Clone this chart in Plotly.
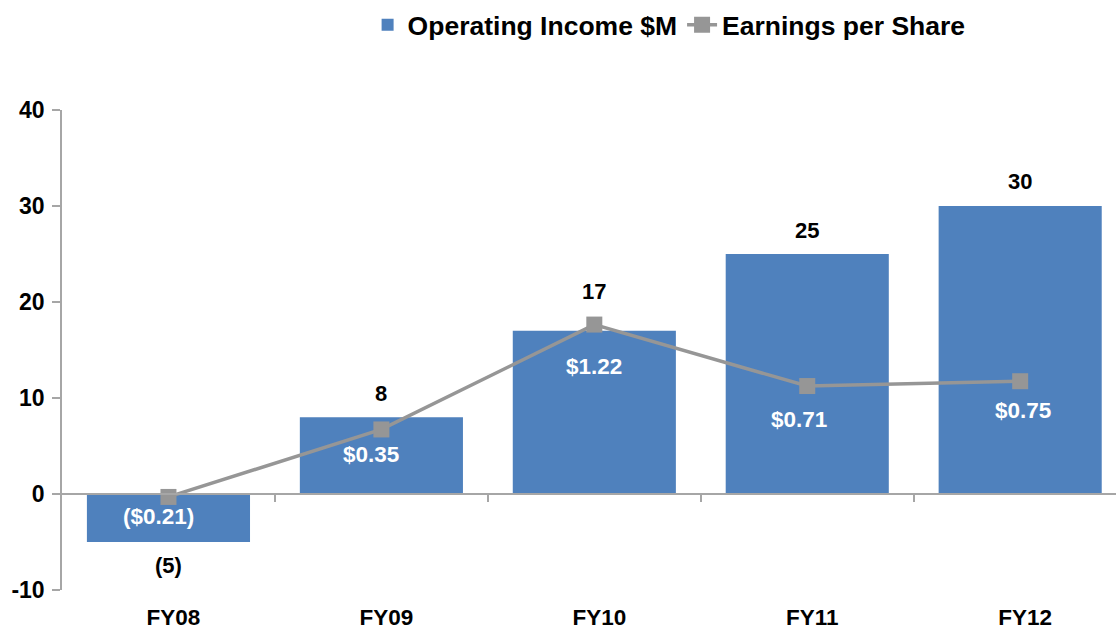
import plotly.graph_objects as go

categories = ["FY08", "FY09", "FY10", "FY11", "FY12"]
operating_income = [-5, 8, 17, 25, 30]
income_labels = ["(5)", "8", "17", "25", "30"]
eps = [-0.21, 0.35, 1.22, 0.71, 0.75]
eps_labels = ["($0.21)", "$0.35", "$1.22", "$0.71", "$0.75"]
y_ticks = [-10, 0, 10, 20, 30, 40]
y_tick_labels = ["-10", "0", "10", "20", "30", "40"]

# label offsets (styling, px)
income_yshift = [-23, 24, 39, 24, 25]
eps_yshift = [-20, -25, -42, -33, -29]
eps_xshift = [-10, -10, 0, -8, 3]

FONT = "Arial, Liberation Sans, sans-serif"
BLUE = "#4F81BD"
GRAY = "#969696"
AXIS = "#A6A6A6"

xpos = list(range(len(categories)))
xrange = [-0.5, 4.45]

fig = go.Figure()
fig.add_trace(go.Bar(
    x=xpos, y=operating_income, name="Operating Income $M",
    marker=dict(color=BLUE, line=dict(width=0)), width=0.766,
    xaxis="x", yaxis="y",
))
fig.add_trace(go.Scatter(
    x=xpos, y=eps, name="Earnings per Share", mode="lines+markers",
    line=dict(color=GRAY, width=3.5),
    marker=dict(symbol="square", size=16, color=GRAY),
    xaxis="x", yaxis="y2",
))

annotations = []
for i, (v, t) in enumerate(zip(operating_income, income_labels)):
    annotations.append(dict(
        x=xpos[i], y=v, xref="x", yref="y", text=t, showarrow=False,
        yshift=income_yshift[i],
        font=dict(family=FONT, size=22, color="black", weight="bold"),
    ))
for i, (v, t) in enumerate(zip(eps, eps_labels)):
    annotations.append(dict(
        x=xpos[i], y=v, xref="x", yref="y2", text=t, showarrow=False,
        yshift=eps_yshift[i], xshift=eps_xshift[i],
        font=dict(family=FONT, size=22.5, color="white", weight="bold"),
    ))

fig.update_layout(
    width=1116, height=632,
    margin=dict(l=62, r=0, t=110, b=42),
    paper_bgcolor="white", plot_bgcolor="white",
    font=dict(family=FONT, color="black"),
    bargap=0.234,
    showlegend=True,
    legend=dict(
        orientation="h", x=0.576, xanchor="center", y=1.227, yanchor="top",
        font=dict(family=FONT, size=26.5, color="black", weight="bold"),
        itemwidth=30, tracegroupgap=0, bgcolor="rgba(0,0,0,0)",
    ),
    xaxis=dict(
        range=xrange, tickvals=xpos, ticktext=categories,
        showline=False, ticks="", showgrid=False, zeroline=False,
        tickfont=dict(family=FONT, size=22.5, color="black", weight="bold"),
        ticklabelstandoff=11, ticklabelshift=5,
    ),
    xaxis2=dict(
        range=xrange, overlaying="x", anchor="free", position=0.2,
        showline=True, linecolor=AXIS, linewidth=1.5,
        ticks="outside", ticklen=7, tickcolor=AXIS, tickwidth=1.5,
        tickvals=[0.5, 1.5, 2.5, 3.5], showticklabels=False,
        showgrid=False, zeroline=False,
    ),
    yaxis=dict(
        range=[-10, 40], tickvals=y_ticks, ticktext=y_tick_labels,
        showline=True, linecolor=AXIS, linewidth=1.5,
        ticks="outside", ticklen=8, tickcolor=AXIS, tickwidth=1.5,
        showgrid=False, zeroline=False, ticklabelstandoff=3,
        tickfont=dict(family=FONT, size=23, color="black", weight="bold"),
    ),
    yaxis2=dict(
        range=[-0.982, 3.0], overlaying="y", visible=False,
        showgrid=False, zeroline=False,
    ),
    annotations=annotations,
)

# invisible trace to anchor xaxis2
fig.add_trace(go.Scatter(x=[0], y=[0], xaxis="x2", yaxis="y", mode="markers",
                         marker=dict(opacity=0), showlegend=False, hoverinfo="skip"))

fig.write_html("out.html", config={"displayModeBar": False},
               post_script="document.body.style.margin='0';document.body.style.overflow='hidden';")
